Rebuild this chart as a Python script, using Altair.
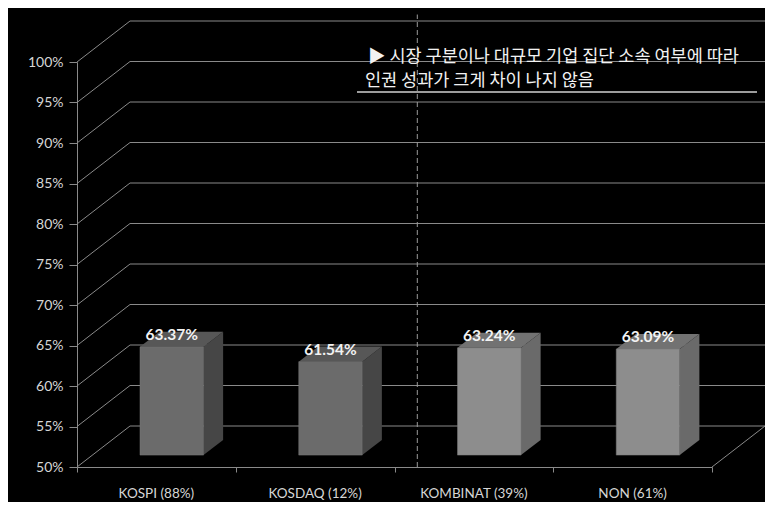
import altair as alt
import pandas as pd

# ---------------- data ----------------
categories = ["KOSPI (88%)", "KOSDAQ (12%)", "KOMBINAT (39%)", "NON (61%)"]
values = [63.37, 61.54, 63.24, 63.09]
groups = ["market", "market", "group", "group"]
value_labels = ["63.37%", "61.54%", "63.24%", "63.09%"]
y_ticks = [50, 55, 60, 65, 70, 75, 80, 85, 90, 95, 100]
x_boundaries = [0, 1, 2, 3, 4]
note_line1 = "▶ 시장 구분이나 대규모 기업 집단 소속 여부에 따라"
note_line2 = "인권 성과가 크게 차이 나지 않음"

# ---------------- style / 3D projection ----------------
DX = 0.334      # x shift (category units) of the back wall
DY = 5.06       # y shift (percent units) of the back wall
D_FRONT = 0.29  # depth of bar front face
D_BACK = 0.66   # depth of bar back face
HW = 0.2        # half bar width
SEP_DEPTH = 0.43
Y_BASE = 50
GRID = "#8a8a8a"
LABEL = "#d6d6d6"
FONT = "Lato"
KFONT = "Noto Sans CJK KR"
FRONT_COL = ["#6b6b6b", "#8d8d8d"]
SIDE_COL = ["#464646", "#6a6a6a"]
TOP_COL = ["#575757", "#727272"]
GROUP_DOMAIN = ["market", "group"]

xs = alt.Scale(domain=[0, 4], nice=False, zero=False)
ys = alt.Scale(domain=[50, 100], nice=False, zero=False)
XAX = alt.Axis(values=x_boundaries, labels=False, tickSize=5, domainColor=GRID,
               tickColor=GRID, grid=False, title=None)
YAX = alt.Axis(values=y_ticks, labelExpr="datum.value + '%'", tickSize=8, labelPadding=6,
               domainColor=GRID, tickColor=GRID, labelColor=LABEL, labelFont=FONT,
               labelFontSize=14, grid=False, title=None)

bars = pd.DataFrame({
    "idx": list(range(len(categories))),
    "cat": categories,
    "value": values,
    "group": groups,
    "vlabel": value_labels,
})
depths = pd.DataFrame({"d": [D_FRONT, D_BACK]})
bars_d = bars.merge(depths, how="cross")
ticks_df = pd.DataFrame({"t": y_ticks})

# ---- back wall gridlines ----
back = alt.Chart(ticks_df).mark_rule(color=GRID, strokeWidth=1).transform_calculate(
    x0=str(DX), x1=str(4 + DX), yb=f"datum.t + {DY}"
).encode(
    x=alt.X("x0:Q", scale=xs, axis=XAX), x2="x1:Q",
    y=alt.Y("yb:Q", scale=ys, axis=YAX), y2="yb:Q",
)

# ---- side wall diagonals ----
side_wall = alt.Chart(ticks_df).mark_rule(color=GRID, strokeWidth=1).transform_calculate(
    x0="0", x1=str(DX), yb=f"datum.t + {DY}"
).encode(
    x=alt.X("x0:Q", scale=xs, axis=XAX), x2="x1:Q",
    y=alt.Y("t:Q", scale=ys, axis=YAX), y2="yb:Q",
)

# ---- floor right edge ----
floor_edge = alt.Chart(pd.DataFrame({"b": [x_boundaries[-1]]})).mark_rule(color=GRID, strokeWidth=1).transform_calculate(
    x1=f"datum.b + {DX}", y0=str(Y_BASE), y1=str(Y_BASE + DY)
).encode(
    x=alt.X("b:Q", scale=xs, axis=XAX), x2="x1:Q",
    y=alt.Y("y0:Q", scale=ys, axis=YAX), y2="y1:Q",
)

# ---- dashed separator between market and group categories ----
sep = alt.Chart(pd.DataFrame({"b": [x_boundaries[2]]})).mark_rule(
    color="#9a9a9a", strokeWidth=1, strokeDash=[5, 3]
).transform_calculate(
    xb=f"datum.b + {SEP_DEPTH * DX}", y0=str(Y_BASE), y1=str(100 + DY + 0.8)
).encode(
    x=alt.X("xb:Q", scale=xs, axis=XAX),
    y=alt.Y("y0:Q", scale=ys, axis=YAX), y2="y1:Q",
)

# ---- bar side faces ----
side = alt.Chart(bars_d).mark_area(orient="vertical", opacity=1).transform_calculate(
    sx=f"datum.idx + 0.5 + {HW} + datum.d * {DX}",
    yb=f"{Y_BASE} + datum.d * {DY}",
    yt=f"datum.value + datum.d * {DY}",
).encode(
    x=alt.X("sx:Q", scale=xs, axis=XAX),
    y=alt.Y("yb:Q", scale=ys, axis=YAX, stack=None), y2="yt:Q",
    detail="cat:N",
    color=alt.Color("group:N", scale=alt.Scale(domain=GROUP_DOMAIN, range=SIDE_COL), legend=None),
)

# ---- bar top faces ----
top = alt.Chart(bars_d).mark_area(orient="horizontal", opacity=1).transform_calculate(
    tx0=f"datum.idx + 0.5 - {HW} + datum.d * {DX}",
    tx1=f"datum.idx + 0.5 + {HW} + datum.d * {DX}",
    ty=f"datum.value + datum.d * {DY}",
).encode(
    y=alt.Y("ty:Q", scale=ys, axis=YAX),
    x=alt.X("tx0:Q", scale=xs, axis=XAX, stack=None), x2="tx1:Q",
    detail="cat:N",
    color=alt.Color("group:N", scale=alt.Scale(domain=GROUP_DOMAIN, range=TOP_COL), legend=None),
)

# ---- bar front faces ----
front = alt.Chart(bars).mark_rect(stroke="#7a7a7a", strokeWidth=0.5).transform_calculate(
    fx0=f"datum.idx + 0.5 - {HW} + {D_FRONT * DX}",
    fx1=f"datum.idx + 0.5 + {HW} + {D_FRONT * DX}",
    fy0=f"{Y_BASE} + {D_FRONT * DY}",
    fy1=f"datum.value + {D_FRONT * DY}",
).encode(
    x=alt.X("fx0:Q", scale=xs, axis=XAX), x2="fx1:Q",
    y=alt.Y("fy0:Q", scale=ys, axis=YAX), y2="fy1:Q",
    color=alt.Color("group:N", scale=alt.Scale(domain=GROUP_DOMAIN, range=FRONT_COL), legend=None),
)

# ---- value labels ----
vlab = alt.Chart(bars).mark_text(
    font=FONT, fontSize=15.5, fontWeight="bold", color="#f2f2f2", baseline="middle", dy=-12
).transform_calculate(
    lx=f"datum.idx + 0.5 + {D_FRONT * DX}",
    ly=f"datum.value + {D_FRONT * DY}",
).encode(
    x=alt.X("lx:Q", scale=xs, axis=XAX),
    y=alt.Y("ly:Q", scale=ys, axis=YAX),
    text="vlabel:N",
)

# ---- category labels ----
clab = alt.Chart(bars).mark_text(
    font=FONT, fontSize=13.5, color=LABEL, baseline="middle", dy=27
).transform_calculate(
    cx="datum.idx + 0.5", cy=str(Y_BASE)
).encode(
    x=alt.X("cx:Q", scale=xs, axis=XAX),
    y=alt.Y("cy:Q", scale=ys, axis=YAX),
    text="cat:N",
)

# ---- annotation ----
note_df = pd.DataFrame({"l1": [note_line1], "l2": [note_line2]})
note1 = alt.Chart(note_df).mark_text(
    font=KFONT, fontSize=17.5, color="#f2f2f2", align="left", baseline="middle"
).encode(x=alt.value(291), y=alt.value(-5), text="l1:N")
note2 = alt.Chart(note_df).mark_text(
    font=KFONT, fontSize=17.5, color="#f2f2f2", align="left", baseline="middle"
).encode(x=alt.value(288), y=alt.value(19), text="l2:N")
underline = alt.Chart(note_df).mark_rule(color="#d0d0d0", strokeWidth=1.5).encode(
    x=alt.value(280), x2=alt.value(680), y=alt.value(30)
)

chart = alt.layer(
    back, side_wall, floor_edge, sep, side, top, front, vlab, clab,
    note1, note2, underline,
).resolve_scale(color="independent").properties(
    width=635, height=405,
    autosize=alt.AutoSizeParams(type="none"),
    padding={"left": 69, "top": 54, "right": 53, "bottom": 35},
    background="black",
).configure_view(stroke=None)

chart.save("out.html", embed_options={"renderer": "svg", "actions": False})
